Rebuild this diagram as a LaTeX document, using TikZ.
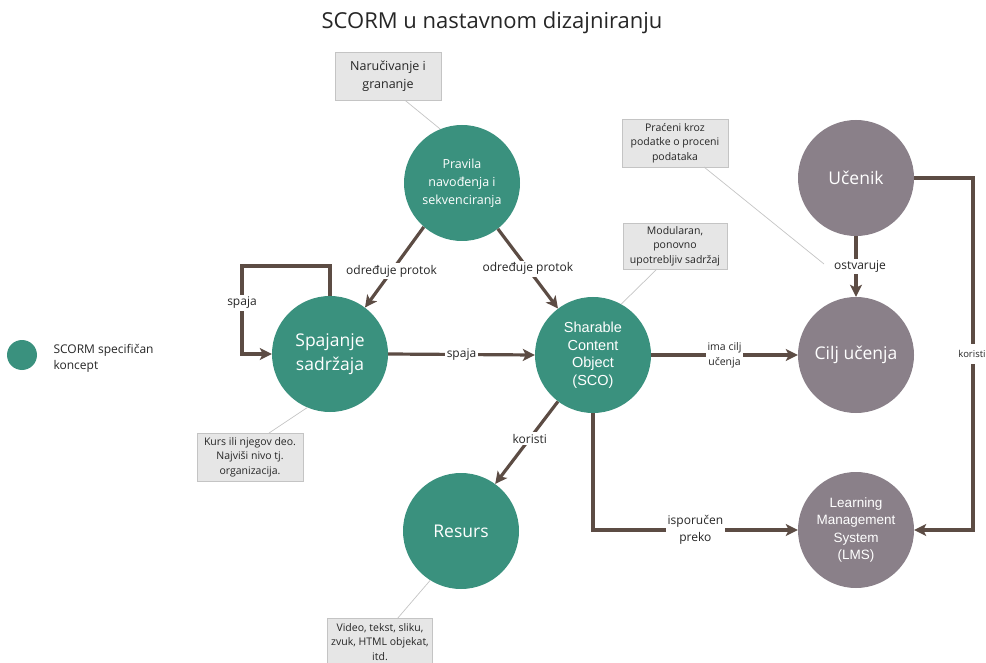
\documentclass[tikz,border=0pt]{standalone}
\usepackage{fontspec}
\setmainfont{Open Sans}
\newfontfamily\scofont{Liberation Sans}
\usetikzlibrary{arrows.meta}
\definecolor{teal1}{RGB}{58,145,126}
\definecolor{gpurple}{RGB}{138,128,137}
\definecolor{arr}{RGB}{92,76,68}
\definecolor{notefill}{RGB}{230,230,230}
\definecolor{noteline}{RGB}{196,196,196}
\tikzset{
  concept/.style={circle, fill=teal1, minimum size=116pt, inner sep=0pt, text=white, align=center},
  other/.style={circle, fill=gpurple, minimum size=116pt, inner sep=0pt, text=white, align=center},
  note/.style={rectangle, fill=notefill, draw=noteline, line width=0.6pt, minimum width=106pt, minimum height=48pt, inner sep=2pt, align=center, text=black!85},
  noteconn/.style={draw=noteline, line width=0.7pt},
  conn/.style={draw=arr, line width=3.2pt, -{Stealth[length=12pt,width=12pt,inset=3pt]}},
  lbl/.style={fill=white, inner sep=2pt, text=black!85, align=center, font=\fontsize{12}{15}\selectfont},
}
\begin{document}
\begin{tikzpicture}[x=1pt,y=-1pt]
\useasboundingbox (0,0) rectangle (986,663);
% title
\node[font=\fontsize{22}{26}\selectfont, text=black!85] (title) at (492,23) {SCORM u nastavnom dizajniranju};
% legend
\node[circle, fill=teal1, minimum size=30pt, inner sep=0pt] (leg) at (22,355) {};
\node[anchor=west, align=left, text=black!85, font=\fontsize{12}{16}\selectfont] (legt) at (50,358) {SCORM specifičan\\koncept};
% concept nodes
\node[concept, font=\fontsize{12.5}{18}\selectfont] (prav) at (462,183) {Pravila\\navođenja i\\sekvenciranja};
\node[concept, font=\fontsize{17.5}{24}\selectfont] (spaj) at (330,354) {Spajanje\\sadržaja};
\node[concept, font=\scofont\fontsize{14.5}{17.5}\selectfont] (sco) at (593,355) {Sharable\\Content\\Object\\(SCO)};
\node[concept, font=\fontsize{17.5}{24}\selectfont] (res) at (461,531) {Resurs};
\node[other, font=\fontsize{17.5}{24}\selectfont] (uc) at (856,178) {Učenik};
\node[other, font=\fontsize{17.5}{24}\selectfont] (cilj) at (856,355) {Cilj učenja};
\node[other, font=\scofont\fontsize{13.5}{17.5}\selectfont] (lms) at (856,530) {Learning\\Management\\System\\(LMS)};
% notes
\node[note, font=\fontsize{12.5}{18}\selectfont] (n1) at (388,76) {Naručivanje i\\grananje};
\node[note, font=\fontsize{10.5}{14.5}\selectfont] (n2) at (675,143) {Praćeni kroz\\podatke o proceni\\podataka};
\node[note, font=\fontsize{10.5}{14.5}\selectfont, minimum height=46pt, minimum width=104pt] (n3) at (675,246) {Modularan,\\ponovno\\upotrebljiv sadržaj};
\node[note, font=\fontsize{10.5}{14.5}\selectfont] (n4) at (250,457) {Kurs ili njegov deo.\\Najviši nivo tj.\\organizacija.};
\node[note, font=\fontsize{10.5}{14.5}\selectfont, minimum width=105pt] (n5) at (380,642) {Video, tekst, sliku,\\zvuk, HTML objekat,\\itd.};
% note connectors
\coordinate (n2end) at (824,264);
\draw[noteconn] (n1.south)++(17,0) coordinate (n1a) (n1a) -- (prav.112);
\draw[noteconn] (704,167) coordinate (n2a) (n2a) -- (n2end);
\draw[noteconn] (657,269) coordinate (n3a) (n3a) -- (sco.61);
\draw[noteconn] (269,433) coordinate (n4a) (n4a) -- (spaj.247);
\draw[noteconn] (397,619) coordinate (n5a) (n5a) -- (res.238);
% connectors
\draw[conn] (prav.229) -- node[lbl, pos=0.55] {određuje protok} (spaj.53);
\draw[conn] (prav.308) -- node[lbl, pos=0.5] {određuje protok} (sco.127);
\coordinate (l1) at (330,266);
\coordinate (l2) at (242,266);
\coordinate (l3) at (242,354);
\draw[conn] (spaj.north) -- (l1) -- (l2) -- node[lbl, pos=0.42] {spaja} (l3) -- (spaj.west);
\draw[conn] (spaj.east) -- node[lbl] {spaja} (sco.west);
\draw[conn] (sco.east) -- node[lbl, font=\fontsize{10.5}{15}\selectfont] {ima cilj\\učenja} (cilj.west);
\draw[conn] (sco.233) -- node[lbl, pos=0.45] {koristi} (res.54);
\coordinate (s1) at (593,530);
\draw[conn] (sco.south) -- (s1) -- node[lbl, pos=0.5, font=\fontsize{12}{17}\selectfont] {isporučen\\preko} (lms.west);
\draw[conn] (uc.south) -- node[lbl, pos=0.5, xshift=4pt] (ostv) {ostvaruje} (cilj.north);
\coordinate (u1) at (973,178);
\coordinate (u2) at (973,530);
\draw[conn] (uc.east) -- (u1) -- node[lbl, pos=0.5, inner xsep=0.5pt, inner ysep=6pt, xshift=-1pt, font=\fontsize{9.5}{12}\selectfont] {koristi} (u2) -- (lms.east);
\end{tikzpicture}
\end{document}
